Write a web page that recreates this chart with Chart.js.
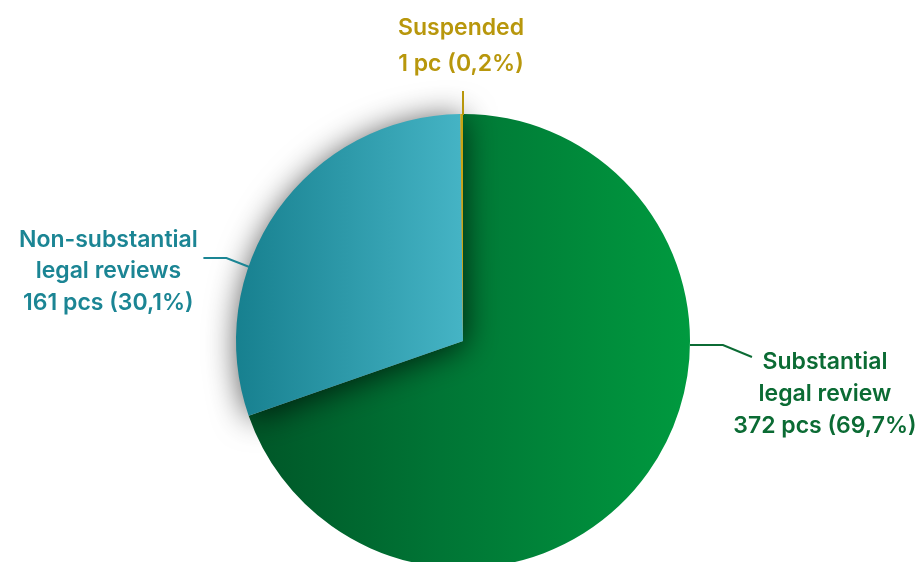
<!DOCTYPE html>
<html lang="en">
<head>
    <meta charset="UTF-8">
    <title>Legal reviews</title>
    <script src="https://cdn.jsdelivr.net/npm/chart.js"></script>
    <style>
        html, body {
            margin: 0;
            padding: 0;
            background: #ffffff;
            overflow: hidden;
        }

        .chart-container {
            width: 919px;
            height: 580px;
        }
    </style>
</head>
<body>
    <div class="chart-container">
        <canvas id="reviewChart"></canvas>
    </div>

    <script>
        // Review counts
        const categories = ['Substantial legal review', 'Non-substantial legal reviews', 'Suspended'];
        const counts = [372, 161, 1];
        const labelLines = [
            ['Substantial', 'legal review', '372 pcs (69,7%)'],
            ['Non-substantial', 'legal reviews', '161 pcs (30,1%)'],
            ['Suspended', '1 pc (0,2%)']
        ];
        const textColors = ['#0b6b34', '#1b8594', '#b8970c'];

        // left-to-right gradients for each slice
        function sliceFill(context) {
            const chart = context.chart;
            const area = chart.chartArea;
            if (!area) return null;
            const g = chart.ctx.createLinearGradient(area.left, 0, area.right, 0);
            if (context.dataIndex === 0) {
                g.addColorStop(0, '#005427');
                g.addColorStop(0.45, '#007535');
                g.addColorStop(1, '#009a3f');
            } else if (context.dataIndex === 1) {
                g.addColorStop(0, '#17808f');
                g.addColorStop(0.5, '#45b4c5');
                g.addColorStop(1, '#52c2d2');
            } else {
                return '#c9a514';
            }
            return g;
        }

        // shadow under the teal slice only
        const sliceShadow = {
            id: 'sliceShadow',
            beforeDatasetsDraw(chart) {
                const arc = chart.getDatasetMeta(0).data[1];
                if (!arc || arc._shadowed) return;
                const draw = arc.draw;
                arc.draw = function (ctx) {
                    ctx.save();
                    ctx.shadowColor = 'rgba(0, 0, 0, 0.7)';
                    ctx.shadowBlur = 32;
                    ctx.shadowOffsetX = 2;
                    ctx.shadowOffsetY = 3;
                    draw.call(this, ctx);
                    ctx.restore();
                };
                arc._shadowed = true;
            }
        };

        // leader lines and multi-line labels
        const sliceLabels = {
            id: 'sliceLabels',
            afterDatasetsDraw(chart) {
                const ctx = chart.ctx;
                const arcs = chart.getDatasetMeta(0).data;
                const cx = arcs[0].x;
                const cy = arcs[0].y;
                const r = arcs[0].outerRadius;

                ctx.save();
                ctx.lineWidth = 2;
                ctx.font = '600 23px Inter';
                ctx.textAlign = 'center';
                ctx.textBaseline = 'middle';

                // Substantial: right side
                let a = Math.asin((345 - cy) / r);
                let px = cx + r * Math.cos(a);
                let py = cy + r * Math.sin(a);
                ctx.strokeStyle = textColors[0];
                ctx.beginPath();
                ctx.moveTo(px, py);
                ctx.lineTo(px + 33, py);
                ctx.lineTo(px + 62, py + 12);
                ctx.stroke();
                ctx.fillStyle = textColors[0];
                labelLines[0].forEach((t, i) => ctx.fillText(t, px + 135, py + 17 + i * 32));

                // Non-substantial: left side
                a = Math.asin((cy - 267) / r);
                px = cx - r * Math.cos(a);
                py = cy - r * Math.sin(a);
                ctx.strokeStyle = textColors[1];
                ctx.beginPath();
                ctx.moveTo(px + 1, py);
                ctx.lineTo(px - 22, py - 9);
                ctx.lineTo(px - 45, py - 9);
                ctx.stroke();
                ctx.fillStyle = textColors[1];
                labelLines[1].forEach((t, i) => ctx.fillText(t, px - 140, py - 27 + i * 31.5));

                // Suspended: top
                const top = cy - r;
                ctx.strokeStyle = textColors[2];
                ctx.beginPath();
                ctx.moveTo(cx, top + 1);
                ctx.lineTo(cx, top - 23);
                ctx.stroke();
                ctx.fillStyle = textColors[2];
                labelLines[2].forEach((t, i) => ctx.fillText(t, cx - 2, top - 86 + i * 36));

                ctx.restore();
            }
        };

        const chartCtx = document.getElementById('reviewChart').getContext('2d');
        new Chart(chartCtx, {
            type: 'pie',
            data: {
                labels: categories,
                datasets: [{
                    data: counts,
                    backgroundColor: sliceFill,
                    borderWidth: 0
                }]
            },
            options: {
                responsive: true,
                maintainAspectRatio: false,
                animation: false,
                layout: {
                    padding: { top: 114, bottom: 12, left: 236, right: 229 }
                },
                plugins: {
                    legend: { display: false },
                    tooltip: { enabled: false }
                }
            },
            plugins: [sliceShadow, sliceLabels]
        });
    </script>
</body>
</html>
